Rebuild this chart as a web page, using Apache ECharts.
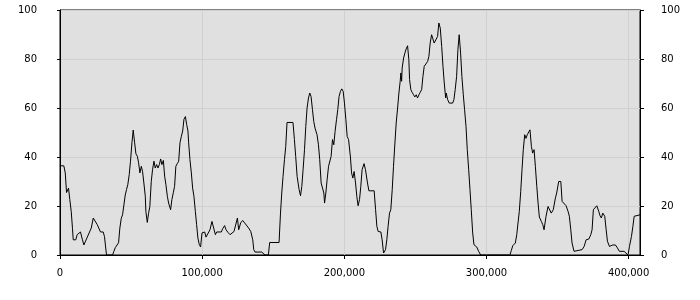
<!DOCTYPE html>
<html>
<head>
<meta charset="utf-8">
<script src="https://cdn.jsdelivr.net/npm/echarts@6/dist/echarts.min.js"></script>
<style>html,body{margin:0;padding:0;background:#fff;}#c{width:700px;height:300px;}</style>
</head>
<body>
<div id="c"></div>
<script>
var xValues = [0,2700,3700,4600,6000,6900,7900,8800,9300,11100,12100,13500,14400,15800,16800,17700,19200,20600,22000,23400,24800,26200,27600,28500,30400,31300,32700,37000,37900,38900,40300,41200,42100,43100,44000,44900,45900,46800,47700,48700,49600,50600,51500,52500,53400,54400,55300,56200,57200,58100,59000,60000,60400,61400,62300,63200,64200,65100,66100,67000,68000,68900,69900,70800,71700,72700,73600,74500,75500,76400,77800,78700,79700,80600,81500,82500,83500,84400,85400,86300,87200,88200,89100,90000,90500,91400,92400,93300,94200,95200,96100,97000,98000,98900,99900,101800,102700,104100,105500,106900,108300,109300,110200,113500,114400,115800,116800,118200,119600,121000,122400,123400,124800,125700,127100,128500,129900,131300,132700,134200,135600,136300,137200,141900,143300,144200,146600,147500,154100,155100,156000,156900,157900,158800,159700,163900,164900,165800,166800,168200,169200,170100,171000,172000,172900,173800,174800,175700,176600,177600,178500,179400,180800,181800,182700,183700,185100,185600,186100,187000,187900,188900,189800,190700,191700,192600,193500,194500,195400,196300,197300,198200,199200,200100,201100,202000,203000,204300,205100,206000,206900,207900,208800,209700,210700,211600,212500,213900,214900,216300,217300,221000,222000,222900,223800,225700,226600,227600,228000,229000,229900,230800,231800,232700,233700,234600,235600,236500,237500,238400,239300,239800,240300,240700,241700,242600,243500,244500,245400,245900,246800,247700,248700,249600,250600,251500,252500,253400,254400,255300,256200,257600,258600,259500,260400,261400,262300,263200,264600,265600,266500,267500,268500,269400,270300,271300,271700,272700,273800,276200,277100,278000,279000,279900,280800,281800,282700,283700,284600,285600,286500,287500,288400,289300,290300,291200,293100,294500,295900,316500,317500,318500,320300,321300,322200,323100,324100,325000,325900,326900,327800,328700,330600,331600,332500,333500,334400,335400,336300,337200,338600,339600,340500,341900,343300,344200,345600,347000,348500,349400,350800,352300,353200,354600,356000,357400,358300,359300,360200,361600,363000,367300,368700,370100,372000,373400,374300,375200,376600,377600,379000,379900,380800,381800,383200,384200,385100,386500,387900,388900,390700,392100,393500,396800,398200,399600,400600,402000,403000,403900,405300,408000];
var yValues = [36.4,36.4,33.5,25.5,27.3,22.6,17.8,10.7,6.2,6.2,8.3,8.3,9.4,6.2,4.1,4.1,7.3,7.3,11.0,15.1,14.4,12.4,12.4,9.4,9.4,7.5,0,0,1.5,3.0,3.5,5.0,11.0,15.0,16.4,16.4,24.5,26.7,28.7,32.8,38.3,45.8,51.0,45.8,41.3,40.3,37.6,33.5,36.2,34.0,29.4,24.0,17.8,13.3,17.0,19.8,30.0,34.8,38.3,35.5,36.9,35.5,36.9,39.2,36.9,38.6,32.2,28.7,24.0,21.2,18.5,22.6,25.4,28.0,36.2,37.3,38.3,45.8,48.5,50.6,55.4,56.5,53.3,50.6,45.8,39.0,33.5,27.3,24.0,17.8,12.4,6.9,4.2,3.3,9.0,9.4,7.3,7.5,10.3,13.7,14.4,8.3,9.4,9.4,10.7,12.0,10.3,9.2,8.3,8.3,9.6,10.3,15.1,10.3,13.1,14.1,13.1,12.4,11.0,9.6,6.2,2.2,1.2,1.2,0.5,0,0,5.1,5.1,17.1,25.3,32.1,38.9,44.3,54.1,54.1,47.1,40.2,32.1,26.7,24.2,28.0,34.8,43.0,52.5,60.0,64.1,66.1,64.7,59.3,54.5,51.8,49.1,45.0,38.9,29.4,29.4,25.3,21.2,25.3,30.7,36.2,35.5,40.2,47.1,45.0,50.4,55.2,59.3,64.7,66.8,67.8,66.8,62.0,55.2,48.4,47.1,40.0,33.5,31.4,34.1,29.4,23.9,20.1,22.6,28.0,34.8,37.3,34.8,29.4,26.2,26.2,18.5,11.7,9.6,9.4,6.2,0.8,0,2.2,6.2,11.7,17.1,18.5,26.7,36.2,45.7,53.9,60.0,66.1,70.9,74.3,70.9,76.3,80.4,82.4,84.1,85.4,79.7,71.6,67.5,66.4,65.4,64.5,65.4,64.1,65.4,66.4,67.5,72.9,77.0,77.0,79.0,81.1,86.5,89.9,88.2,86.5,86.5,89.2,94.7,92.6,85.1,77.0,70.2,64.1,66.1,63.4,62.0,62.0,63.4,67.5,72.9,83.8,89.9,82.4,72.9,65.4,59.3,52.5,43.0,34.8,26.7,18.5,9.0,4.2,3.3,1.5,0,0,1.9,3.8,4.9,8.3,13.1,17.8,26.0,34.8,43.0,49.1,47.6,49.1,51.1,44.3,41.6,43.0,36.2,28.0,21.2,15.5,13.7,12.4,10.3,15.8,19.8,19.1,17.1,18.5,23.3,25.3,30.0,30.0,21.9,21.5,20.1,17.8,15.8,10.3,4.9,1.5,2.2,2.2,3.5,6.2,6.5,8.3,10.3,18.5,18.5,20.1,17.8,16.0,15.1,17.1,15.8,10.3,5.6,3.5,3.3,4.1,4.1,2.9,1.5,1.5,0.8,0,3.5,7.6,11.7,15.8,16.4,16.4];
var xMin = 0, xMax = 408000, xStep = 100000;
var yMin = 0, yMax = 100, yStep = 20;

var points = xValues.map(function (x, i) { return [x, yValues[i]]; });
var labelFont = { color: '#000', fontFamily: 'DejaVu Sans', fontSize: 10 };

var chart = echarts.init(document.getElementById('c'), null, { renderer: 'canvas' });
chart.setOption({
  animation: false,
  backgroundColor: '#fff',
  grid: { left: 60, right: 60, top: 10, bottom: 45, show: true, backgroundColor: '#e0e0e0', borderColor: '#000', borderWidth: 1, containLabel: false },
  xAxis: {
    type: 'value', min: xMin, max: xMax, interval: xStep,
    axisLine: { show: true, lineStyle: { color: '#000', width: 1 } },
    axisTick: { show: true, length: 4, lineStyle: { color: '#000' } },
    axisLabel: Object.assign({ margin: 13, showMaxLabel: false }, labelFont),
    splitLine: { show: true, lineStyle: { color: '#d0d0d0', width: 1 } }
  },
  yAxis: [{
    type: 'value', position: 'left', min: yMin, max: yMax, interval: yStep,
    axisLine: { show: true, lineStyle: { color: '#000', width: 1 } },
    axisTick: { show: true, length: 3, lineStyle: { color: '#000' } },
    axisLabel: Object.assign({ margin: 23 }, labelFont),
    splitLine: { show: true, lineStyle: { color: '#d0d0d0', width: 1 } }
  }, {
    type: 'value', position: 'right', min: yMin, max: yMax, interval: yStep,
    axisLine: { show: true, lineStyle: { color: '#000', width: 1 } },
    axisTick: { show: true, length: 4, lineStyle: { color: '#000' } },
    axisLabel: Object.assign({ margin: 21 }, labelFont),
    splitLine: { show: false }
  }],
  series: [{
    type: 'line', data: points, yAxisIndex: 0,
    showSymbol: false, symbol: 'none',
    lineStyle: { color: '#000', width: 1 },
    silent: true
  }]
});
</script>
</body>
</html>
